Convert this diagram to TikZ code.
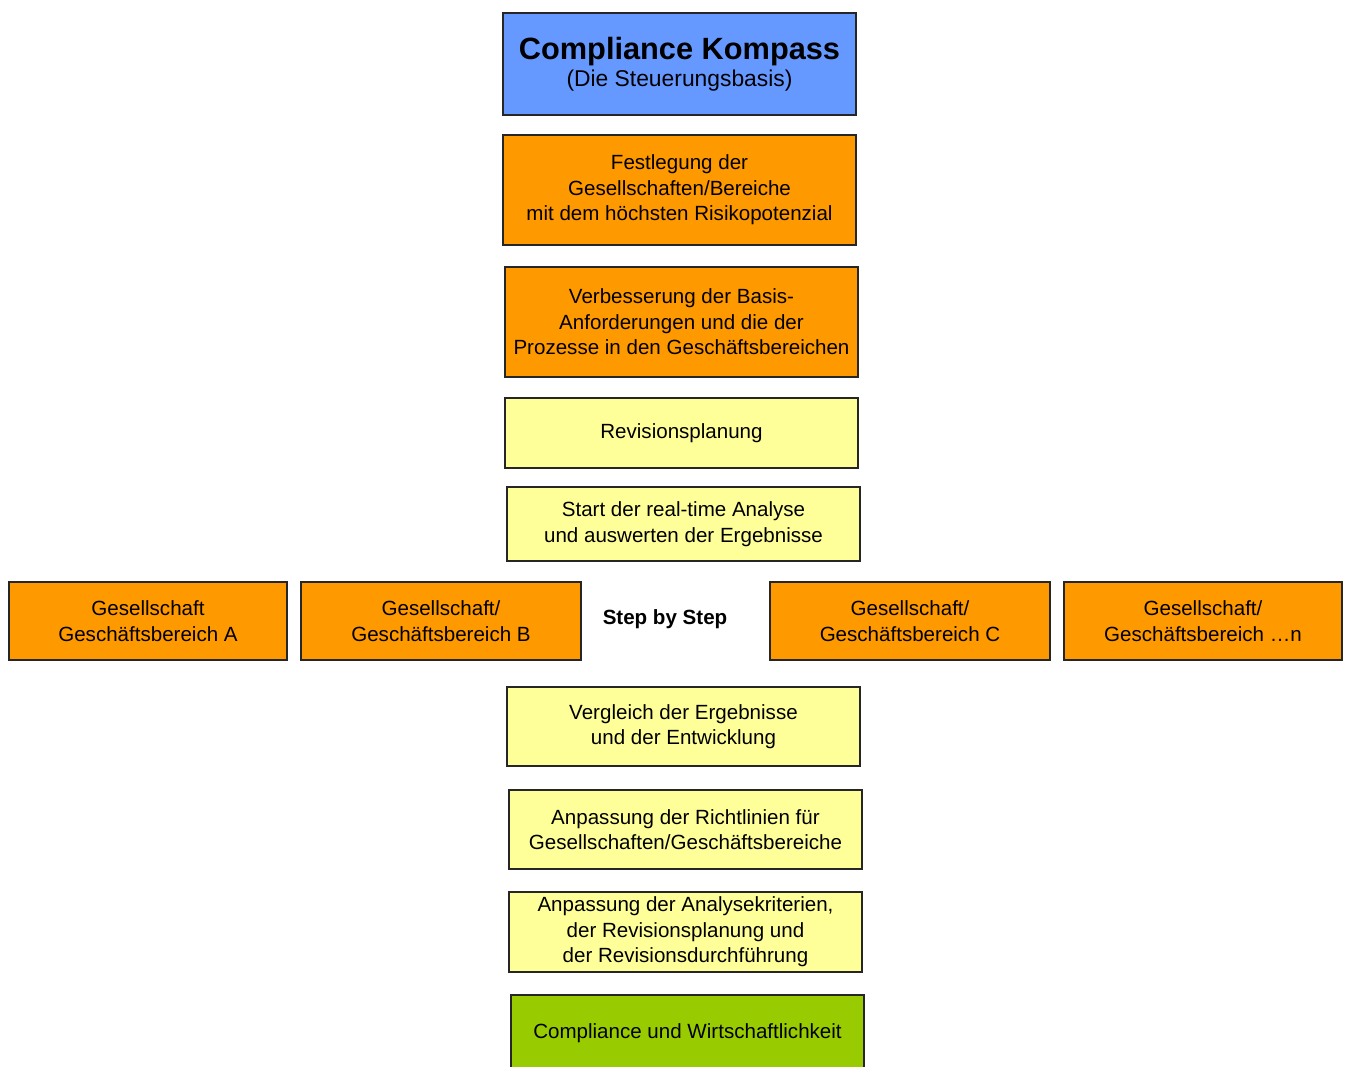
\documentclass[tikz,border=0pt]{standalone}
\usepackage{fontspec}
\setmainfont{Liberation Sans}
\definecolor{kblue}{HTML}{6699FF}
\definecolor{korange}{HTML}{FF9900}
\definecolor{kyellow}{HTML}{FFFF99}
\definecolor{kgreen}{HTML}{99CC00}
\tikzset{
  stepbox/.style={line width=1pt, draw=black!85, align=center},
  steptext/.style={font=\fontsize{11.7}{14.5}\selectfont}
}
\begin{document}
\begin{tikzpicture}[x=0.02cm, y=-0.02cm]
  \clip (0,0) rectangle (1345,1066);
  \fill[white] (0,0) rectangle (1345,1066);
  \draw[stepbox, fill=kblue] (503,13) rectangle node[align=center] (kompass) {{\fontsize{17.5}{20}\selectfont\bfseries Compliance Kompass}\\[1pt]{\fontsize{13}{15}\selectfont (Die Steuerungsbasis)}} (856,115);
  \draw[stepbox, fill=korange] (503,135) rectangle node[steptext, align=center] (festlegung) {Festlegung der\\Gesellschaften/Bereiche\\mit dem höchsten Risikopotenzial} (856,245);
  \draw[stepbox, fill=korange] (505,267) rectangle node[steptext, align=center] (verbesserung) {Verbesserung der Basis-\\Anforderungen und die der\\Prozesse in den Geschäftsbereichen} (858,377);
  \draw[stepbox, fill=kyellow] (505,398) rectangle node[steptext] (planung) {Revisionsplanung} (858,468);
  \draw[stepbox, fill=kyellow] (507,487) rectangle node[steptext, align=center] (analyse) {Start der real-time Analyse\\und auswerten der Ergebnisse} (860,561);
  \draw[stepbox, fill=korange] (9,582) rectangle node[steptext, align=center] (bereichA) {Gesellschaft\\Geschäftsbereich A} (287,660);
  \draw[stepbox, fill=korange] (301,582) rectangle node[steptext, align=center] (bereichB) {Gesellschaft/\\Geschäftsbereich B} (581,660);
  \node[steptext, font=\fontsize{11.7}{14}\selectfont\bfseries] (stepbystep) at (665,619) {Step by Step};
  \draw[stepbox, fill=korange] (770,582) rectangle node[steptext, align=center] (bereichC) {Gesellschaft/\\Geschäftsbereich C} (1050,660);
  \draw[stepbox, fill=korange] (1064,582) rectangle node[steptext, align=center] (bereichN) {Gesellschaft/\\Geschäftsbereich \dots n} (1342,660);
  \draw[stepbox, fill=kyellow] (507,687) rectangle node[steptext, align=center] (vergleich) {Vergleich der Ergebnisse\\und der Entwicklung} (860,766);
  \draw[stepbox, fill=kyellow] (509,790) rectangle node[steptext, align=center] (richtlinien) {Anpassung der Richtlinien für\\Gesellschaften/Geschäftsbereiche} (862,869);
  \draw[stepbox, fill=kyellow] (509,892) rectangle node[steptext, align=center] (kriterien) {Anpassung der Analysekriterien,\\der Revisionsplanung und\\der Revisionsdurchführung} (862,972);
  \draw[stepbox, fill=kgreen] (511,995) rectangle node[steptext] (ziel) {Compliance und Wirtschaftlichkeit} (864,1072);
\end{tikzpicture}
\end{document}
